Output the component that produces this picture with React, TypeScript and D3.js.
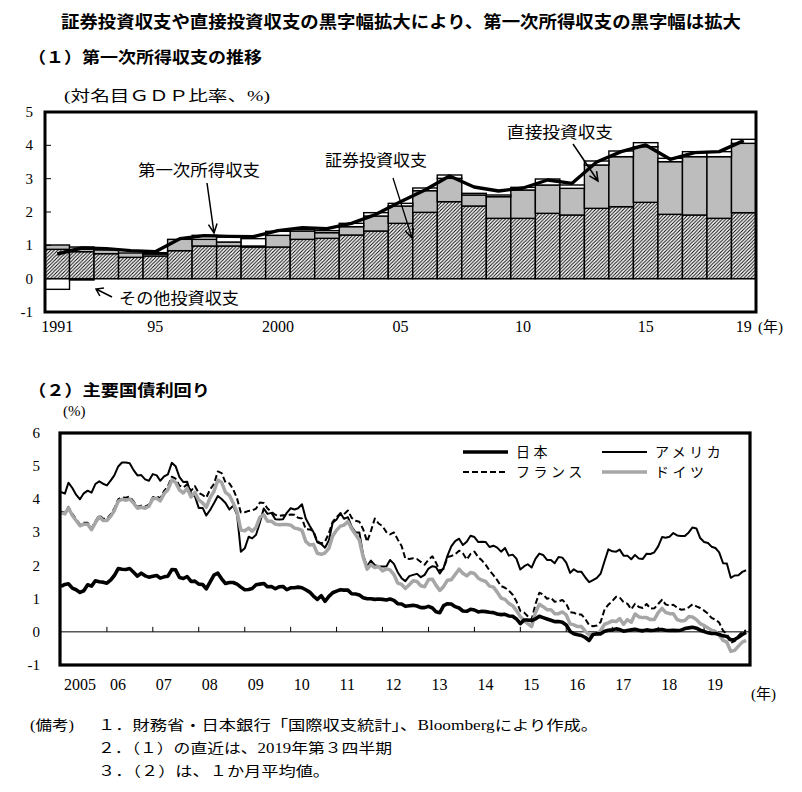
import * as d3 from "d3";

// (1) primary income balance, % of nominal GDP
const YEARS = ["1991","1992","1993","1994","1995","1996","1997","1998","1999","2000","2001","2002","2003","2004","2005","2006","2007","2008","2009","2010","2011","2012","2013","2014","2015","2016","2017","2018","2019"];
const SECURITIES = [0.88,0.81,0.75,0.64,0.68,0.84,0.98,0.98,0.95,0.95,1.18,1.21,1.31,1.43,1.66,1.99,2.31,2.18,1.81,1.81,1.96,1.91,2.11,2.16,2.29,1.93,1.91,1.81,1.98];
const DIRECT = [0.13,0.14,0.11,0.13,0.06,0.34,0.2,0.12,0.03,0.35,0.25,0.17,0.25,0.45,0.52,0.65,0.7,0.33,0.65,0.85,0.85,0.8,1.3,1.5,1.67,1.58,1.75,1.85,2.08];
const OTHER_INV = [-0.32,-0.04,0,0,0.04,0,0.12,0.15,0.22,0.12,0.05,0.06,0.1,0.1,0.08,0.08,0.1,0.05,0.05,0.08,0.18,0.1,0.12,0.17,0.12,0.1,0.15,0.15,0.12];
const PRIMARY = [0.74,0.92,0.9,0.84,0.81,1.2,1.29,1.27,1.26,1.44,1.53,1.5,1.66,1.93,2.31,2.66,3.08,2.75,2.63,2.72,2.96,2.86,3.5,3.81,4.01,3.58,3.78,3.81,4.14];
const TOP_TICK_YEARS = ["1991","1995","2000","2005","2010","2015","2019"];
const TOP_TICK_TEXT = ["1991","95","2000","05","10","15","19"];
const TOP_Y_TICKS = [5,4,3,2,1,0,-1];

// (2) 10y government bond yields, monthly averages Jan 2005 - Dec 2019
const JAPAN = [
  1.37,1.43,1.45,1.32,1.27,1.19,1.24,1.42,1.38,1.54,1.51,1.5,
  1.47,1.57,1.7,1.91,1.89,1.88,1.91,1.8,1.68,1.77,1.69,1.65,
  1.68,1.7,1.62,1.66,1.68,1.88,1.87,1.64,1.61,1.67,1.52,1.53,
  1.44,1.43,1.3,1.51,1.71,1.77,1.6,1.46,1.49,1.49,1.44,1.35,
  1.27,1.28,1.31,1.42,1.44,1.46,1.36,1.37,1.3,1.36,1.37,1.27,
  1.33,1.33,1.35,1.33,1.27,1.2,1.08,0.98,1.09,0.92,1.07,1.18,
  1.23,1.27,1.26,1.26,1.15,1.14,1.11,1.03,1.0,1.0,0.98,0.99,
  0.98,0.96,0.99,0.95,0.85,0.84,0.77,0.79,0.8,0.78,0.73,0.73,
  0.77,0.72,0.61,0.58,0.79,0.85,0.84,0.76,0.72,0.63,0.62,0.68,
  0.66,0.6,0.62,0.61,0.59,0.58,0.54,0.52,0.53,0.48,0.47,0.39,
  0.25,0.36,0.36,0.34,0.39,0.47,0.43,0.39,0.35,0.31,0.31,0.29,
  0.21,0.01,-0.06,-0.09,-0.11,-0.17,-0.26,-0.08,-0.06,-0.06,0.02,0.05,
  0.06,0.09,0.07,0.02,0.04,0.06,0.08,0.05,0.03,0.06,0.04,0.05,
  0.07,0.07,0.05,0.04,0.05,0.04,0.05,0.1,0.12,0.14,0.11,0.05,
  0.01,-0.03,-0.05,-0.05,-0.08,-0.12,-0.14,-0.24,-0.23,-0.16,-0.08,-0.02,
];
const USA = [
  4.22,4.17,4.5,4.34,4.14,4.0,4.18,4.26,4.2,4.46,4.54,4.47,
  4.42,4.57,4.72,4.99,5.11,5.11,5.09,4.88,4.72,4.73,4.6,4.56,
  4.76,4.72,4.56,4.69,4.75,5.1,5.0,4.67,4.52,4.53,4.15,4.1,
  3.74,3.74,3.51,3.68,3.88,4.1,4.01,3.89,3.69,3.81,3.53,2.42,
  2.52,2.87,2.82,2.93,3.29,3.72,3.56,3.59,3.4,3.39,3.4,3.59,
  3.73,3.69,3.73,3.85,3.42,3.2,3.01,2.7,2.65,2.54,2.76,3.29,
  3.39,3.58,3.41,3.46,3.17,3.0,3.0,2.3,1.98,2.15,2.01,1.98,
  1.97,1.97,2.17,2.05,1.8,1.62,1.53,1.68,1.72,1.75,1.65,1.72,
  1.91,1.98,1.96,1.76,1.93,2.3,2.58,2.74,2.81,2.62,2.72,2.9,
  2.86,2.71,2.72,2.71,2.56,2.6,2.54,2.42,2.53,2.3,2.33,2.21,
  1.88,1.98,2.04,1.94,2.2,2.36,2.32,2.17,2.17,2.07,2.26,2.24,
  2.09,1.78,1.89,1.81,1.81,1.64,1.5,1.56,1.63,1.76,2.14,2.49,
  2.43,2.42,2.48,2.3,2.3,2.19,2.32,2.21,2.2,2.36,2.35,2.4,
  2.58,2.86,2.84,2.87,2.98,2.91,2.89,2.89,3.0,3.15,3.12,2.83,
  2.71,2.68,2.57,2.53,2.4,2.07,2.06,1.63,1.7,1.71,1.81,1.86,
];
const FRANCE = [
  3.63,3.59,3.77,3.56,3.4,3.24,3.29,3.29,3.13,3.33,3.52,3.41,
  3.41,3.55,3.72,4.0,4.06,4.05,4.08,3.94,3.77,3.81,3.78,3.84,
  4.06,4.09,4.03,4.25,4.39,4.68,4.62,4.41,4.36,4.45,4.25,4.4,
  4.19,4.13,4.05,4.3,4.46,4.84,4.79,4.51,4.48,4.3,4.02,3.6,
  3.61,3.65,3.66,3.72,3.9,3.89,3.72,3.62,3.53,3.5,3.52,3.51,
  3.54,3.53,3.44,3.42,3.1,3.09,3.04,2.73,2.67,2.72,2.98,3.32,
  3.46,3.58,3.55,3.66,3.44,3.35,3.32,3.09,2.72,3.04,3.42,3.27,
  3.19,3.01,2.94,3.0,2.79,2.59,2.21,2.2,2.22,2.2,2.11,2.03,
  2.18,2.28,2.09,1.85,1.9,2.26,2.29,2.34,2.45,2.37,2.18,2.35,
  2.42,2.25,2.16,2.02,1.85,1.71,1.56,1.38,1.33,1.25,1.12,0.92,
  0.63,0.58,0.47,0.37,0.83,1.18,1.13,1.0,1.03,0.91,0.92,0.96,
  0.85,0.59,0.58,0.52,0.52,0.39,0.2,0.17,0.19,0.3,0.68,0.82,
  0.93,1.06,1.04,0.89,0.85,0.68,0.85,0.75,0.72,0.84,0.7,0.71,
  0.84,0.97,0.83,0.79,0.82,0.73,0.67,0.68,0.74,0.83,0.77,0.72,
  0.64,0.55,0.42,0.37,0.28,0.03,-0.06,-0.33,-0.28,-0.12,0.01,0.04,
];
const GERMANY = [
  3.59,3.56,3.74,3.51,3.36,3.2,3.25,3.25,3.08,3.29,3.47,3.36,
  3.36,3.49,3.66,3.94,4.0,3.97,4.01,3.89,3.73,3.76,3.73,3.79,
  4.02,4.03,3.95,4.17,4.29,4.58,4.51,4.28,4.19,4.33,4.07,4.21,
  3.98,3.89,3.76,4.05,4.24,4.58,4.51,4.21,4.12,3.89,3.61,3.07,
  3.05,3.13,3.04,3.15,3.46,3.53,3.34,3.34,3.25,3.23,3.24,3.24,
  3.22,3.13,3.11,3.06,2.73,2.62,2.64,2.37,2.34,2.38,2.52,2.89,
  3.07,3.19,3.22,3.33,3.11,2.94,2.77,2.25,1.89,2.03,1.94,1.97,
  1.84,1.9,1.87,1.73,1.47,1.43,1.31,1.42,1.54,1.52,1.39,1.36,
  1.58,1.59,1.41,1.25,1.37,1.56,1.57,1.73,1.89,1.77,1.69,1.79,
  1.76,1.62,1.56,1.52,1.38,1.35,1.2,1.02,0.98,0.86,0.79,0.64,
  0.46,0.34,0.25,0.16,0.58,0.83,0.76,0.67,0.67,0.55,0.55,0.6,
  0.51,0.24,0.21,0.16,0.16,0.02,-0.09,-0.08,-0.07,0.04,0.23,0.27,
  0.33,0.31,0.4,0.23,0.37,0.29,0.54,0.45,0.43,0.43,0.37,0.37,
  0.58,0.71,0.59,0.55,0.55,0.37,0.33,0.34,0.46,0.45,0.37,0.25,
  0.19,0.12,0.05,0.01,-0.1,-0.26,-0.31,-0.59,-0.56,-0.43,-0.31,-0.26,
];
const BOTTOM_TICK_TEXT = ["2005","06","07","08","09","10","11","12","13","14","15","16","17","18","19"];
const BOTTOM_Y_TICKS = [6,5,4,3,2,1,0,-1];

const SERIF = '"Liberation Serif", "Noto Sans CJK JP", serif';
const GOTHIC = '"Noto Sans CJK JP", sans-serif';
const GRAY = "#bdbdbd";

// open "V" arrowhead at (x2,y2)
function arrowPath(x1: number, y1: number, x2: number, y2: number, len = 10, spread = 0.45) {
  const a = Math.atan2(y2 - y1, x2 - x1);
  const p1 = [x2 - len * Math.cos(a - spread), y2 - len * Math.sin(a - spread)];
  const p2 = [x2 - len * Math.cos(a + spread), y2 - len * Math.sin(a + spread)];
  return `M${x1},${y1}L${x2},${y2}M${p1[0]},${p1[1]}L${x2},${y2}L${p2[0]},${p2[1]}`;
}

function TopChart() {
  const L = 45, R = 756, T = 112, B = 312;
  const x = d3.scaleBand<string>().domain(YEARS).range([L, R]).padding(0);
  const y = d3.scaleLinear().domain([-1, 5]).range([B, T]);

  const rows = YEARS.map((yr, i) => ({ year: yr, sec: SECURITIES[i], dir: DIRECT[i], oth: OTHER_INV[i] }));
  const stack = d3.stack<any>().keys(["sec", "dir", "oth"]).offset(d3.stackOffsetDiverging)(rows);
  const fills: Record<string, string> = { sec: "url(#hatch)", dir: GRAY, oth: "#fff" };

  const line = d3
    .line<number>()
    .x((_, i) => (x(YEARS[i]) ?? 0) + x.bandwidth() / 2)
    .y((d) => y(d));

  return (
    <g>
      <defs>
        <pattern id="hatch" patternUnits="userSpaceOnUse" width={3.5} height={3.5}>
          <rect width={3.5} height={3.5} fill="#fff" />
          <path d="M-1,1L1,-1M0,3.5L3.5,0M2.5,4.5L4.5,2.5" stroke="#000" strokeWidth={0.95} />
        </pattern>
      </defs>
      {stack.map((s) =>
        s.map((d, i) => {
          const h = Math.abs(y(d[0]) - y(d[1]));
          if (h < 0.01) return null;
          return (
            <rect
              key={s.key + i}
              x={x(d.data.year)}
              y={Math.min(y(d[0]), y(d[1]))}
              width={x.bandwidth()}
              height={h}
              fill={fills[s.key]}
              stroke="#000"
              strokeWidth={1.4}
            />
          );
        })
      )}
      <line x1={L} x2={R} y1={y(0)} y2={y(0)} stroke="#000" strokeWidth={1.2} />
      <path d={line(PRIMARY) ?? ""} fill="none" stroke="#000" strokeWidth={3.4} strokeLinejoin="round" />
      <rect x={L} y={T} width={R - L} height={B - T} fill="none" stroke="#000" strokeWidth={3} />
      {TOP_Y_TICKS.map((t) => (
        <g key={t}>
          <line x1={L} x2={L + 6} y1={y(t)} y2={y(t)} stroke="#000" strokeWidth={1} />
          <text x={33} y={y(t)} textAnchor="end" dominantBaseline="central" fontSize={15} fontFamily={SERIF}>
            {t}
          </text>
        </g>
      ))}
      {TOP_TICK_YEARS.map((yr, i) => (
        <text key={yr} x={(x(yr) ?? 0) + x.bandwidth() / 2} y={332} textAnchor="middle" fontSize={16} fontFamily={SERIF}>
          {TOP_TICK_TEXT[i]}
        </text>
      ))}
      <text x={758} y={332} fontSize={15} fontFamily={SERIF}>(年)</text>
      <text x={64} y={101} fontSize={15} fontFamily={SERIF} textLength={206} lengthAdjust="spacingAndGlyphs">(対名目ＧＤＰ比率、%)</text>

      {/* annotations */}
      <text x={138} y={176} fontSize={16} fontFamily={SERIF} textLength={122} lengthAdjust="spacingAndGlyphs">第一次所得収支</text>
      <path d={arrowPath(207, 183, 214, 233)} fill="none" stroke="#000" strokeWidth={1.5} />
      <text x={325} y={166} fontSize={16} fontFamily={SERIF} textLength={102} lengthAdjust="spacingAndGlyphs">証券投資収支</text>
      <path d={arrowPath(393, 178, 412, 238)} fill="none" stroke="#000" strokeWidth={1.3} />
      <text x={507} y={138} fontSize={16} fontFamily={SERIF} textLength={106} lengthAdjust="spacingAndGlyphs">直接投資収支</text>
      <path d={arrowPath(573, 144, 598, 181)} fill="none" stroke="#000" strokeWidth={1.5} />
      <path d={arrowPath(112, 297, 96, 289, 8, 0.6)} fill="none" stroke="#000" strokeWidth={1.5} />
      <text x={119} y={304} fontSize={16} fontFamily={SERIF} textLength={120} lengthAdjust="spacingAndGlyphs">その他投資収支</text>
    </g>
  );
}

function BottomChart() {
  const L = 60, R = 750, T = 433, B = 665;
  const x = d3.scaleTime().domain([new Date(2005, 0, 1), new Date(2020, 0, 1)]).range([61, R]);
  const y = d3.scaleLinear().domain([-1, 6]).range([B, T]);
  const date = (i: number) => new Date(2005, i, 1);
  const line = d3
    .line<number>()
    .x((_, i) => x(date(i)))
    .y((d) => y(d));
  const yearTicks = x.ticks(d3.timeYear.every(1)).filter((d) => d.getFullYear() <= 2019);

  const series = [
    { name: "アメリカ", data: USA, stroke: "#000", width: 2, dash: undefined as string | undefined },
    { name: "フランス", data: FRANCE, stroke: "#000", width: 2, dash: "6,3" },
    { name: "ドイツ", data: GERMANY, stroke: "#a6a6a6", width: 3.5, dash: undefined },
    { name: "日本", data: JAPAN, stroke: "#000", width: 3.6, dash: undefined },
  ];
  const legend = [
    { s: series[3], lx: 463, ly: 452 },
    { s: series[0], lx: 602, ly: 452 },
    { s: series[1], lx: 463, ly: 472 },
    { s: series[2], lx: 602, ly: 472 },
  ];

  return (
    <g>
      <line x1={L} x2={R} y1={y(0)} y2={y(0)} stroke="#000" strokeWidth={1} />
      {yearTicks.slice(1).map((d) => (
        <line key={+d} x1={x(d)} x2={x(d)} y1={y(0)} y2={y(0) - 5} stroke="#000" strokeWidth={1} />
      ))}
      {series.map((s) => (
        <path
          key={s.name}
          d={line(s.data) ?? ""}
          fill="none"
          stroke={s.stroke}
          strokeWidth={s.width}
          strokeDasharray={s.dash}
          strokeLinejoin="round"
        />
      ))}
      <rect x={L} y={T} width={R - L} height={B - T} fill="none" stroke="#000" strokeWidth={3.2} />
      {BOTTOM_Y_TICKS.map((t) => (
        <text key={t} x={40} y={y(t)} textAnchor="end" dominantBaseline="central" fontSize={15} fontFamily={SERIF}>
          {t}
        </text>
      ))}
      {yearTicks.map((d, i) => (
        <text key={+d} x={x(d) + 3} y={690} fontSize={16} fontFamily={SERIF}>
          {BOTTOM_TICK_TEXT[i]}
        </text>
      ))}
      <text x={751} y={699} fontSize={15} fontFamily={SERIF}>(年)</text>
      <text x={63} y={416} fontSize={15} fontFamily={SERIF}>(%)</text>
      {legend.map(({ s, lx, ly }) => (
        <g key={s.name}>
          <line x1={lx} x2={lx + 45} y1={ly} y2={ly} stroke={s.stroke} strokeWidth={s.width} strokeDasharray={s.dash} />
          <text x={lx + 53} y={ly} dominantBaseline="central" fontSize={14} fontFamily={SERIF} letterSpacing={3.5}>
            {s.name}
          </text>
        </g>
      ))}
    </g>
  );
}

export default function App() {
  return (
    <div style={{ position: "absolute", left: 0, top: 0, background: "#fff" }}>
      <svg width={802} height={792} viewBox="0 0 802 792" style={{ display: "block", background: "#fff" }}>
        <text x={401} y={28} textAnchor="middle" fontSize={17} fontWeight="bold" fontFamily={GOTHIC} textLength={680} lengthAdjust="spacingAndGlyphs">
          証券投資収支や直接投資収支の黒字幅拡大により、第一次所得収支の黒字幅は拡大
        </text>
        <text x={28} y={63} fontSize={16} fontWeight="bold" fontFamily={GOTHIC} textLength={234} lengthAdjust="spacingAndGlyphs">
          （１）第一次所得収支の推移
        </text>
        <TopChart />
        <text x={28} y={396} fontSize={16} fontWeight="bold" fontFamily={GOTHIC} textLength={182} lengthAdjust="spacingAndGlyphs">
          （２）主要国債利回り
        </text>
        <BottomChart />
        <g fontFamily={SERIF} fontSize={14}>
          <text x={30} y={730} textLength={44} lengthAdjust="spacingAndGlyphs">(備考)</text>
          <text x={98} y={730} textLength={500} lengthAdjust="spacingAndGlyphs">１．財務省・日本銀行「国際収支統計」、Bloombergにより作成。</text>
          <text x={98} y={753} textLength={294} lengthAdjust="spacingAndGlyphs">２．（１）の直近は、2019年第３四半期</text>
          <text x={98} y={776} textLength={232} lengthAdjust="spacingAndGlyphs">３．（２）は、１か月平均値。</text>
        </g>
      </svg>
    </div>
  );
}
